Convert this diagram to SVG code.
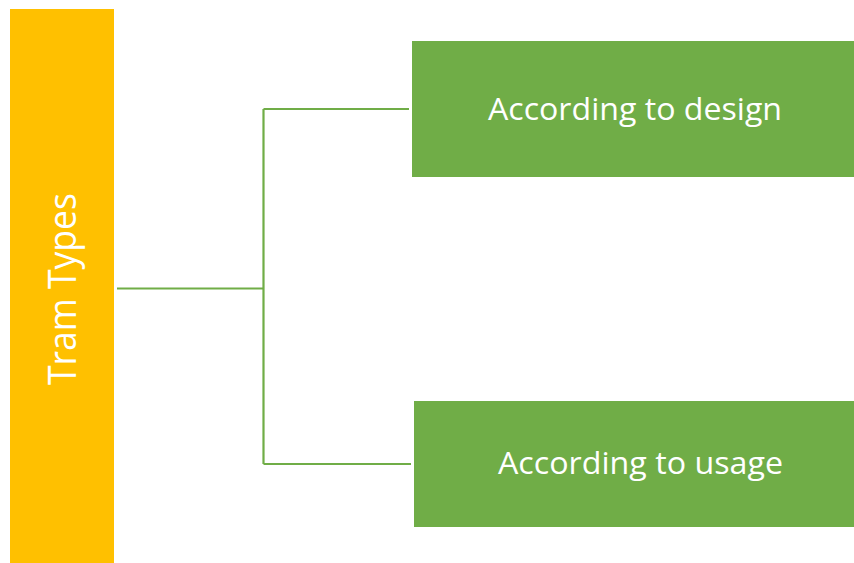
<svg xmlns="http://www.w3.org/2000/svg" width="854" height="563" viewBox="0 0 854 563">
<style>
.lbl{font-family:"Open Sans","Liberation Sans",sans-serif;fill:#FFFFFF;}
.conn{stroke:#70AD47;stroke-width:2.2;fill:none;}
.g{fill:#70AD47;}
</style>
<rect width="854" height="563" fill="#FFFFFF"/>
<g id="node-tram-types">
<rect x="10" y="9" width="104" height="554" fill="#FFC000"/>
<text class="lbl" x="0" y="0" font-size="38" text-anchor="middle" textLength="192" lengthAdjust="spacingAndGlyphs" transform="translate(76,289) rotate(-90)">Tram Types</text>
</g>
<g id="connectors">
<path class="conn" d="M117,288.5 H263.5"/>
<path class="conn" d="M263.5,109 V464 M263.5,109 H409 M263.5,464 H411"/>
</g>
<g id="node-design">
<rect class="g" x="412" y="41" width="442" height="136"/>
<text class="lbl" x="635" y="120" font-size="31" text-anchor="middle" textLength="294" lengthAdjust="spacingAndGlyphs">According to design</text>
</g>
<g id="node-usage">
<rect class="g" x="414" y="401" width="440" height="126"/>
<text class="lbl" x="640.5" y="474" font-size="31" text-anchor="middle" textLength="285" lengthAdjust="spacingAndGlyphs">According to usage</text>
</g>
</svg>
